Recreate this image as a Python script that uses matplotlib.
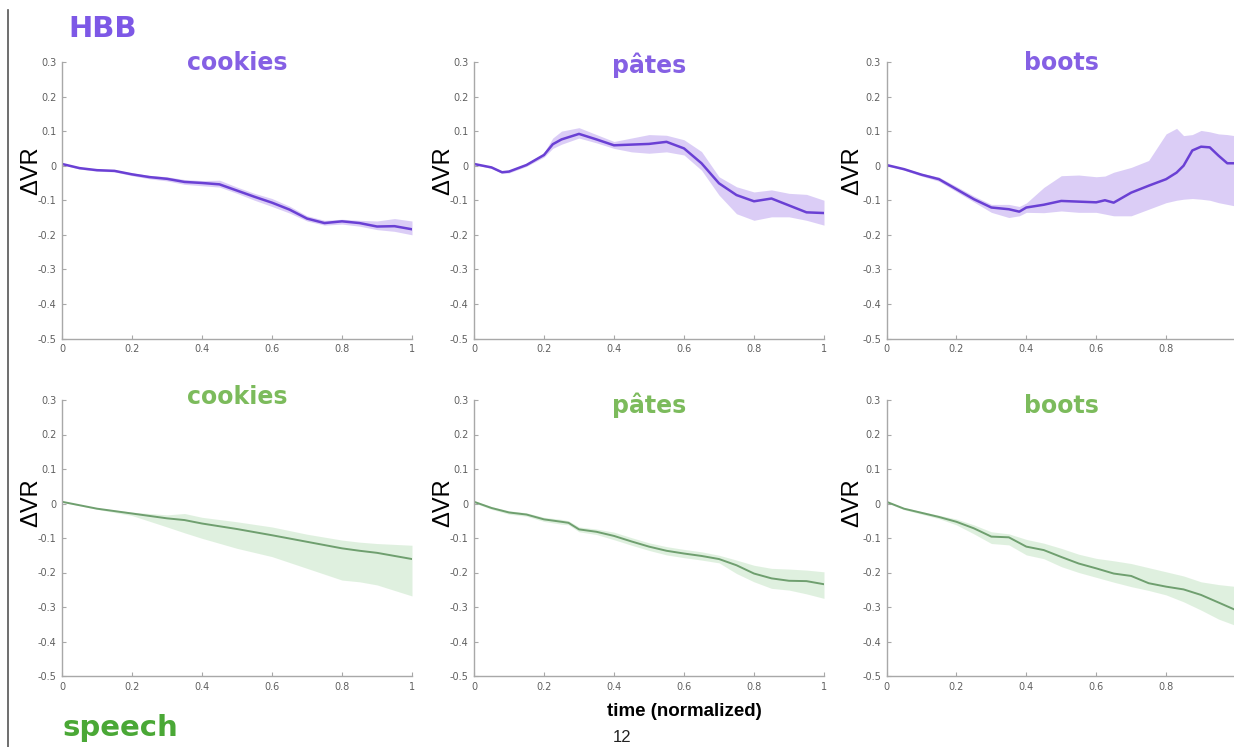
import matplotlib
matplotlib.use("Agg")
import matplotlib.pyplot as plt
from matplotlib.lines import Line2D

# ---------------- data ----------------
words = ["cookies", "pâtes", "boots"]
group_labels = ["HBB", "speech"]
x_ticks = [0, 0.2, 0.4, 0.6, 0.8, 1]
x_tick_labels = ["0", "0.2", "0.4", "0.6", "0.8", "1"]
y_ticks = [0.3, 0.2, 0.1, 0, -0.1, -0.2, -0.3, -0.4, -0.5]
y_tick_labels = ["0.3", "0.2", "0.1", "0", "-0.1", "-0.2", "-0.3", "-0.4", "-0.5"]

# HBB cookies
hbb_cookies_t = [0, .05, .1, .15, .2, .25, .3, .35, .4, .45, .5, .55, .6, .65, .7, .75, .8, .85, .9, .95, 1]
hbb_cookies_mean = [.005, -.007, -.013, -.015, -.025, -.033, -.038, -.047, -.05, -.054, -.072, -.09, -.107, -.127, -.153, -.166, -.161, -.166, -.176, -.175, -.184]
hbb_cookies_hi = [.007, -.004, -.010, -.012, -.021, -.028, -.032, -.040, -.043, -.042, -.062, -.080, -.095, -.117, -.145, -.158, -.155, -.158, -.160, -.153, -.160]
hbb_cookies_lo = [.003, -.010, -.016, -.018, -.029, -.038, -.044, -.054, -.058, -.062, -.080, -.100, -.118, -.137, -.160, -.172, -.169, -.175, -.185, -.190, -.200]

# HBB pâtes
hbb_pates_t = [0, .05, .08, .1, .15, .2, .225, .25, .3, .35, .4, .45, .5, .55, .6, .65, .7, .75, .8, .85, .9, .95, 1]
hbb_pates_mean = [.005, -.005, -.019, -.017, .002, .031, .062, .076, .092, .076, .059, .061, .063, .069, .05, .007, -.051, -.085, -.103, -.095, -.115, -.135, -.137]
hbb_pates_hi = [.007, -.002, -.015, -.013, .006, .038, .08, .100, .11, .09, .07, .08, .09, .088, .075, .041, -.032, -.061, -.076, -.07, -.08, -.083, -.1]
hbb_pates_lo = [.003, -.008, -.022, -.021, -.002, .025, .05, .062, .08, .066, .05, .04, .036, .04, .031, -.013, -.085, -.139, -.158, -.148, -.148, -.158, -.172]

# HBB boots
hbb_boots_t = [0, .05, .1, .15, .2, .25, .3, .35, .38, .4, .45, .5, .55, .6, .625, .65, .7, .75, .8, .83, .85, .875, .9, .925, .95, .975, .995]
hbb_boots_mean = [.002, -.01, -.026, -.039, -.068, -.097, -.121, -.126, -.133, -.121, -.113, -.102, -.104, -.106, -.1, -.107, -.078, -.058, -.039, -.02, 0, .044, .055, .053, .029, .007, .007]
hbb_boots_hi = [.004, -.007, -.022, -.033, -.060, -.088, -.112, -.112, -.118, -.108, -.063, -.029, -.027, -.032, -.030, -.019, -.005, .015, .092, .108, .087, .09, .102, .098, .092, .090, .087]
hbb_boots_lo = [.000, -.013, -.030, -.045, -.075, -.105, -.135, -.150, -.145, -.135, -.136, -.131, -.135, -.135, -.140, -.145, -.145, -.126, -.107, -.100, -.097, -.095, -.097, -.10, -.107, -.112, -.116]

# speech cookies
sp_cookies_t = [0, .1, .2, .3, .35, .4, .5, .6, .7, .8, .85, .9, 1]
sp_cookies_mean = [.005, -.015, -.029, -.043, -.048, -.058, -.074, -.092, -.111, -.13, -.137, -.143, -.161]
sp_cookies_hi = [.006, -.013, -.025, -.033, -.029, -.040, -.053, -.068, -.089, -.106, -.112, -.116, -.121]
sp_cookies_lo = [.004, -.017, -.035, -.068, -.085, -.101, -.13, -.154, -.188, -.222, -.227, -.236, -.268]

# speech pâtes
sp_pates_t = [0, .05, .1, .15, .2, .25, .27, .3, .35, .4, .45, .5, .55, .6, .65, .7, .75, .8, .85, .9, .95, 1]
sp_pates_mean = [.005, -.013, -.026, -.032, -.046, -.053, -.056, -.075, -.082, -.094, -.11, -.125, -.137, -.145, -.152, -.161, -.179, -.203, -.217, -.224, -.225, -.234]
sp_pates_hi = [.008, -.009, -.021, -.027, -.040, -.046, -.050, -.068, -.074, -.083, -.099, -.114, -.125, -.133, -.140, -.150, -.164, -.179, -.188, -.190, -.193, -.198]
sp_pates_lo = [.002, -.017, -.031, -.037, -.052, -.060, -.062, -.082, -.090, -.105, -.121, -.136, -.149, -.157, -.164, -.172, -.203, -.227, -.246, -.251, -.262, -.275]

# speech boots
sp_boots_t = [0, .05, .1, .15, .2, .25, .3, .35, .4, .45, .5, .55, .6, .65, .7, .75, .8, .85, .9, .95, .995]
sp_boots_mean = [.005, -.015, -.027, -.039, -.053, -.072, -.096, -.098, -.125, -.135, -.155, -.174, -.188, -.203, -.21, -.231, -.241, -.249, -.265, -.287, -.307]
sp_boots_hi = [.007, -.012, -.023, -.034, -.045, -.062, -.082, -.088, -.104, -.115, -.13, -.147, -.159, -.166, -.174, -.186, -.198, -.210, -.227, -.235, -.24]
sp_boots_lo = [.003, -.018, -.031, -.044, -.062, -.088, -.116, -.120, -.149, -.160, -.183, -.200, -.214, -.228, -.241, -.252, -.265, -.285, -.309, -.335, -.352]

series = [
    [(hbb_cookies_t, hbb_cookies_mean, hbb_cookies_lo, hbb_cookies_hi),
     (hbb_pates_t, hbb_pates_mean, hbb_pates_lo, hbb_pates_hi),
     (hbb_boots_t, hbb_boots_mean, hbb_boots_lo, hbb_boots_hi)],
    [(sp_cookies_t, sp_cookies_mean, sp_cookies_lo, sp_cookies_hi),
     (sp_pates_t, sp_pates_mean, sp_pates_lo, sp_pates_hi),
     (sp_boots_t, sp_boots_mean, sp_boots_lo, sp_boots_hi)],
]

# ---------------- style ----------------
W, H = 1234, 747
line_colors = ["#6a40d4", "#6f9f6f"]
fill_colors = ["#d9cbf6", "#def0de"]
title_colors = ["#8560e4", "#7cbb5c"]
group_colors = ["#7d58e6", "#4aa836"]
axis_gray = "#a8a8a8"
tick_gray = "#606060"

fig = plt.figure(figsize=(W / 100, H / 100), dpi=100)

col_left_px = [62, 474, 886.5]
col_width_px = [350, 350, 349.5]
row_top_px = [62, 400]
row_h_px = [276.5, 276]
title_y_px = [[63, 65, 63], [397, 405, 406]]
ylabel_x_px = [31, 443, 852]
ylabel_y_px = [171, 503]
line_widths = [1.8, 1.4]

for r in range(2):
    for c in range(3):
        left = col_left_px[c] / W
        bottom = 1 - (row_top_px[r] + row_h_px[r]) / H
        ax = fig.add_axes([left, bottom, col_width_px[c] / W, row_h_px[r] / H])
        t, m, lo, hi = series[r][c]
        ax.fill_between(t, lo, hi, color=fill_colors[r], linewidth=0, alpha=0.95)
        ax.plot(t, m, color=line_colors[r], linewidth=line_widths[r])
        ax.set_xlim(0, 1)
        ax.set_ylim(-0.5, 0.3)
        ax.set_xticks(x_ticks)
        # last column runs off the page edge: its final tick label is not visible
        labels = list(x_tick_labels)
        if c == 2:
            labels[-1] = ""
        ax.set_xticklabels(labels)
        ax.set_yticks(y_ticks)
        ax.set_yticklabels(y_tick_labels)
        ax.tick_params(direction="in", length=3, width=0.8, color=axis_gray,
                       labelsize=7, labelcolor=tick_gray, pad=4)
        for s in ["top", "right"]:
            ax.spines[s].set_visible(False)
        for s in ["left", "bottom"]:
            ax.spines[s].set_color(axis_gray)
            ax.spines[s].set_linewidth(1.0)
        ax.patch.set_alpha(0)
        # panel title
        cx = (col_left_px[c] + col_width_px[c] / 2) / W
        fig.text(cx, 1 - title_y_px[r][c] / H, words[c], color=title_colors[r],
                 fontsize=17, fontweight="bold", ha="center", va="center")
        # y label
        fig.text(ylabel_x_px[c] / W, 1 - ylabel_y_px[r] / H, "ΔVR", rotation=90,
                 fontsize=17, ha="center", va="center", color="black",
                 family=["Liberation Sans", "DejaVu Sans"])

# group labels
fig.text(103 / W, 1 - 29 / H, group_labels[0], color=group_colors[0], fontsize=21,
         fontweight="bold", ha="center", va="center")
fig.text(120 / W, 1 - 728 / H, group_labels[1], color=group_colors[1], fontsize=21,
         fontweight="bold", ha="center", va="center")

# x label and page number
fig.text(684 / W, 1 - 712 / H, "time (normalized)", fontsize=13.5, fontweight="bold",
         ha="center", va="center", color="black",
         family=["Liberation Sans", "DejaVu Sans"])
fig.text(622 / W, 1 - 737 / H, "12", fontsize=12, ha="center", va="center",
         color="#222222", family=["Liberation Sans", "DejaVu Sans"])

# left border line
fig.add_artist(Line2D([8 / W, 8 / W], [0, 1 - 10 / H], transform=fig.transFigure,
                      color="#555555", linewidth=1.2))

fig.savefig("out.png", dpi=100)
